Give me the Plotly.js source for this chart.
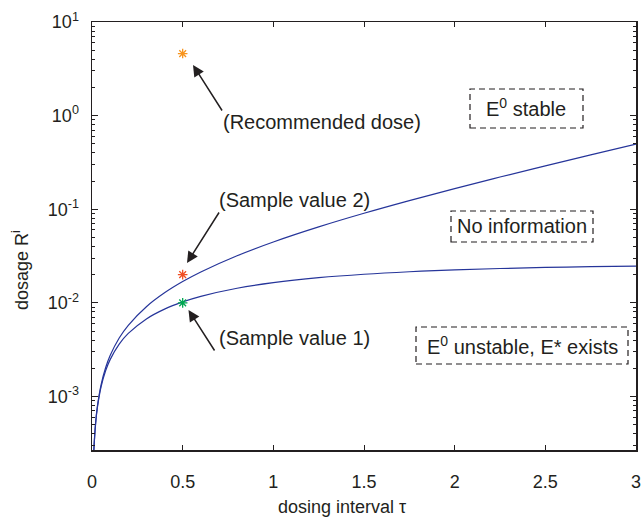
<!DOCTYPE html>
<html>
<head>
<meta charset="utf-8">
<script src="https://cdn.plot.ly/plotly-3.0.1.min.js"></script>
<style>html,body{margin:0;padding:0;background:#fff;}#chart{width:643px;height:518px;}</style>
</head>
<body>
<div id="chart"></div>
<script>
// Boundary curves
var tau = [0.005, 0.01, 0.02, 0.03, 0.05, 0.075, 0.1, 0.15, 0.2, 0.3, 0.4, 0.5, 0.6, 0.8, 1.0, 1.25, 1.5, 1.75, 2.0, 2.25, 2.5, 2.75, 3.0];
var upperCurve = [1.30e-4, 2.61e-4, 5.25e-4, 7.92e-4, 1.333e-3, 2.025e-3, 2.734e-3, 4.208e-3, 5.757e-3, 9.096e-3, 0.01279, 0.01687, 0.02138, 0.03186, 0.04468, 0.06475, 0.09052, 0.1236, 0.1661, 0.2207, 0.2907, 0.3807, 0.4962];
var lowerCurve = [1.30e-4, 2.587e-4, 5.15e-4, 7.68e-4, 1.268e-3, 1.879e-3, 2.474e-3, 3.622e-3, 4.713e-3, 6.739e-3, 8.572e-3, 0.01023, 0.01173, 0.01432, 0.01643, 0.01855, 0.02020, 0.02148, 0.02248, 0.02326, 0.02387, 0.02434, 0.02471];

// Highlighted points
var pointNames = ['Recommended dose', 'Sample value 2', 'Sample value 1'];
var pointTau = [0.5, 0.5, 0.5];
var pointDose = [4.6, 0.02, 0.01];
var pointColors = ['#f7941d', '#f04e23', '#00a651'];

// Tick labels
var yTickVals = [1e-3, 1e-2, 1e-1, 1, 10];
var yTickText = ['10<sup>-3</sup>', '10<sup>-2</sup>', '10<sup>-1</sup>', '10<sup>0</sup>', '10<sup>1</sup>'];
var xTickVals = [0, 0.5, 1, 1.5, 2, 2.5, 3];
var xTickText = ['0', '0.5', '1', '1.5', '2', '2.5', '3'];

// Texts
var xTitle = 'dosing interval τ';
var yTitle = 'dosage R<sup>i</sup>';
var regionLabels = ['E<sup>0</sup> stable', 'No information', 'E<sup>0</sup> unstable, E* exists'];

var minorVals = [];
[-4, -3, -2, -1, 0].forEach(function (e) {
  for (var k = 2; k <= 9; k++) minorVals.push(k * Math.pow(10, e));
});

var L = 92, R = 636, T = 22, B = 450;
function PX(px) { return (px - L) / (R - L); }
function PY(py) { return (B - py) / (B - T); }

var traces = [
  {x: tau, y: upperCurve, mode: 'lines', line: {color: '#26359a', width: 1.2, shape: 'spline', smoothing: 1}, hoverinfo: 'skip'},
  {x: tau, y: lowerCurve, mode: 'lines', line: {color: '#26359a', width: 1.2, shape: 'spline', smoothing: 1}, hoverinfo: 'skip'}
];
for (var i = 0; i < pointNames.length; i++) {
  traces.push({
    x: [pointTau[i]], y: [pointDose[i]], mode: 'markers', name: pointNames[i],
    marker: {symbol: 'asterisk-open', size: 8, color: pointColors[i], line: {color: pointColors[i], width: 1.3}}
  });
}

var font = {family: 'Liberation Sans, Arial, sans-serif', color: '#231f20'};
var annFont = {family: 'Liberation Sans, Arial, sans-serif', size: 20, color: '#231f20'};
var axFont = {family: 'Liberation Sans, Arial, sans-serif', size: 18, color: '#231f20'};

var arrowCommon = {xref: 'paper', yref: 'paper', axref: 'pixel', ayref: 'pixel', text: '', showarrow: true,
  arrowhead: 2, arrowsize: 1.5, arrowwidth: 1.5, arrowcolor: '#231f20'};

var annotations = [
  Object.assign({}, arrowCommon, {x: PX(193), y: PY(65), ax: 30, ay: 47}),
  Object.assign({}, arrowCommon, {x: PX(187), y: PY(263), ax: 33, ay: -52}),
  Object.assign({}, arrowCommon, {x: PX(188.5), y: PY(310), ax: 27, ay: 42}),
  {xref: 'paper', yref: 'paper', x: PX(221), y: PY(122), xanchor: 'left', yanchor: 'middle', text: '(' + pointNames[0] + ')', showarrow: false, font: annFont},
  {xref: 'paper', yref: 'paper', x: PX(217), y: PY(200), xanchor: 'left', yanchor: 'middle', text: '(' + pointNames[1] + ')', showarrow: false, font: annFont},
  {xref: 'paper', yref: 'paper', x: PX(217), y: PY(338), xanchor: 'left', yanchor: 'middle', text: '(' + pointNames[2] + ')', showarrow: false, font: annFont},
  {xref: 'paper', yref: 'paper', x: PX(526), y: PY(108), xanchor: 'center', yanchor: 'middle', text: regionLabels[0], showarrow: false, font: annFont},
  {xref: 'paper', yref: 'paper', x: PX(522), y: PY(226), xanchor: 'center', yanchor: 'middle', text: regionLabels[1], showarrow: false, font: annFont},
  {xref: 'paper', yref: 'paper', x: PX(522), y: PY(345), xanchor: 'center', yanchor: 'middle', text: regionLabels[2], showarrow: false, font: annFont},
  {xref: 'paper', yref: 'paper', x: PX(342), y: PY(507), xanchor: 'center', yanchor: 'middle', text: xTitle, showarrow: false, font: axFont},
  {xref: 'paper', yref: 'paper', x: PX(20), y: PY(270), xanchor: 'center', yanchor: 'middle', textangle: -90, text: yTitle, showarrow: false, font: axFont}
];

function box(x0, y0, x1, y1) {
  return {type: 'rect', xref: 'paper', yref: 'paper', x0: PX(x0), x1: PX(x1), y0: PY(y1), y1: PY(y0),
    line: {color: '#231f20', width: 1.2, dash: '6px,4px'}, fillcolor: 'rgba(0,0,0,0)'};
}
var shapes = [box(470, 89, 583, 128), box(451, 211, 593, 242), box(416, 327, 628, 364)];

var axisCommon = {showline: true, linecolor: '#231f20', linewidth: 1.5, mirror: 'allticks', ticks: 'inside',
  tickcolor: '#231f20', tickwidth: 1, showgrid: false, zeroline: false, tickfont: axFont};

var layout = {
  width: 643, height: 518,
  margin: {l: L, r: 643 - R, t: T, b: 518 - B},
  paper_bgcolor: '#ffffff', plot_bgcolor: '#ffffff',
  showlegend: false,
  font: font,
  xaxis: Object.assign({}, axisCommon, {
    range: [0, 3], tickmode: 'array', tickvals: xTickVals, ticktext: xTickText, ticklen: 5,
    ticklabelstandoff: 15
  }),
  yaxis: Object.assign({}, axisCommon, {
    type: 'log', range: [-3.572, 1], tickmode: 'array', tickvals: yTickVals, ticktext: yTickText, ticklen: 6,
    ticklabelstandoff: 8,
    minor: {tickmode: 'array', tickvals: minorVals, ticks: 'inside', ticklen: 3, tickcolor: '#231f20', showgrid: false}
  }),
  shapes: shapes,
  annotations: annotations
};

Plotly.newPlot('chart', traces, layout, {staticPlot: true, displayModeBar: false});
</script>
</body>
</html>
